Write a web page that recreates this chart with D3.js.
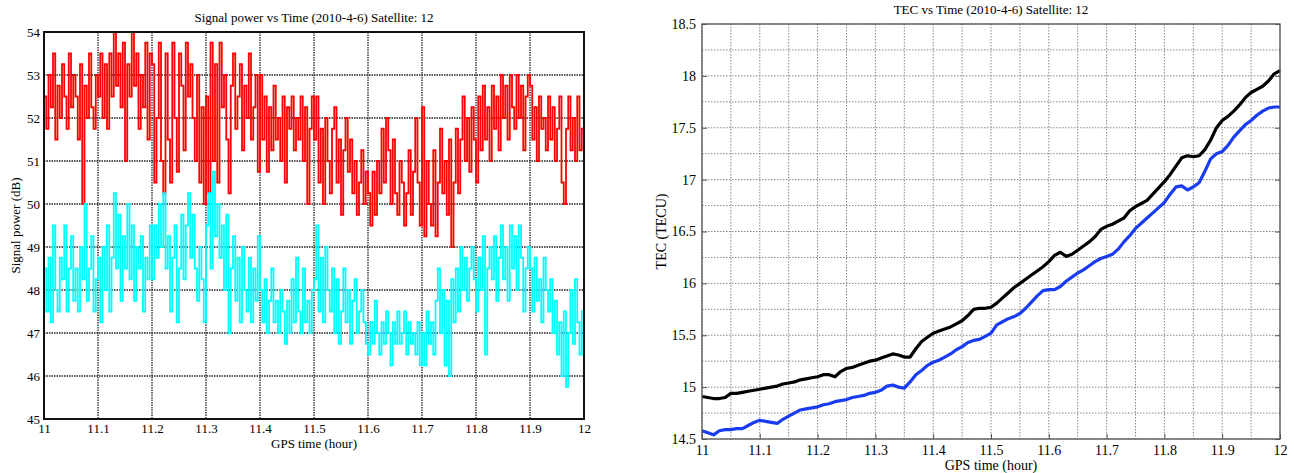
<!DOCTYPE html>
<html>
<head>
<meta charset="utf-8">
<script src="https://cdn.jsdelivr.net/npm/d3@7"></script>
<style>
  body { margin: 0; background: #fff; }
  svg text { font-family: "Liberation Serif", "DejaVu Serif", serif; fill: #000; }
</style>
</head>
<body>
<div id="chart"></div>
<script>
// ---- data ----
var powerTimeStart = 11, powerTimeStep = 1 / 240;

var powerRed = [
  52.5, 51.75, 53, 52.25, 53.5, 51.5, 52.75, 52, 53.25, 52.5, 51.75, 53.5, 52.25, 53, 52.5, 51.5, 53.25, 50, 52.75, 52, 53.5, 52.25, 51.75, 53,
  52.5, 53.5, 52, 53.25, 51.75, 53.5, 52.5, 54, 52.75, 53.5, 52.25, 53.75, 51, 53.25, 52.5, 54, 52.75, 53.5, 51.75, 53, 52.25, 53.75, 51.5, 53.5,
  53.25, 50.5, 52, 53.75, 51, 50.25, 53.5, 51.5, 50.5, 53.75, 52, 50.75, 53.5, 52.75, 51.25, 53.75, 52.5, 53.25, 52, 51, 53, 50.5, 52.25, 50,
  52.5, 50.25, 53.75, 51, 53.25, 50.5, 53.75, 52.25, 53, 51.5, 50.25, 52.75, 53.5, 51.75, 52.5, 53.25, 51.25, 52.75, 52, 53.5, 51.5, 52.25, 53, 50.75,
  53, 51.5, 52.5, 50.75, 52.25, 51.25, 52.75, 51.5, 52, 51, 52.5, 50.5, 52.25, 51.75, 52.5, 51.25, 52, 51.5, 52.5, 51, 52.25, 50, 51.75, 52.5,
  51.5, 52.5, 50.5, 51.75, 50, 52, 51, 50.25, 51.75, 52.25, 50.5, 51.5, 49.75, 51.25, 52, 50.75, 51.5, 50.25, 51, 49.75, 50.5, 51.25, 50, 50.75,
  50.25, 49.5, 50.75, 49.75, 51, 50.25, 51.75, 50.5, 52, 51.25, 50, 51.5, 50.25, 49.75, 51, 50.5, 49.5, 50.25, 51.25, 49.75, 50.75, 52, 50.5, 49.5,
  52.25, 49.25, 51, 50, 49.5, 51.25, 49.25, 50.5, 51.75, 50.25, 51, 49.75, 51.5, 49, 50.5, 51.75, 50.25, 51.5, 52.5, 51, 52, 50.75, 52.25, 51.5,
  50.5, 52.5, 51.25, 52.75, 51.5, 52.25, 51, 52.75, 51.75, 52.5, 51.25, 53, 52, 52.75, 51.5, 53, 52.25, 51.75, 53, 52, 52.75, 51.25, 52.5, 53,
  52.75, 51.5, 52.25, 51, 52.5, 51.75, 52, 51.25, 52.5, 51.5, 52.25, 51, 51.75, 52.5, 50.5, 50, 51.75, 52.5, 51.25, 52, 51, 52.5, 51.25, 51.75, 51
];

var powerCyan = [
  48.5, 47.5, 48.75, 47.25, 49.5, 48, 47.5, 48.75, 48.25, 49.5, 47.5, 48.5, 49.25, 47.75, 48.5, 47.5, 49, 48.25, 50, 47.75, 48.5, 49.25, 47.5, 48.25,
  48.75, 47.25, 49, 48, 49.5, 47.5, 48.75, 50.25, 48.5, 49.75, 47.75, 49.25, 48.5, 50, 48.25, 49.5, 47.75, 49, 48.5, 49.25, 47.5, 48.75, 48.25, 49.5,
  48.25, 49.5, 48.75, 50, 49, 50.25, 48.5, 49.25, 47.5, 48.75, 49.5, 47.25, 48.5, 49.75, 48.25, 49.5, 50.25, 48.75, 49.75, 48.5, 47.75, 49, 48.25, 47.25,
  49.5, 50.25, 48.5, 50.75, 49.25, 50, 48.75, 49.5, 48, 49.75, 47, 48.5, 49.25, 47.75, 48.75, 47.25, 49, 48, 47.5, 48.75, 47.25, 48.5, 47.75, 49.25,
  48, 47.25, 48.25, 47, 47.75, 48.5, 47.25, 47.75, 47, 48, 47.5, 46.75, 47.75, 47, 48.25, 47.25, 48.75, 47.5, 47, 48.5, 47.25, 47.75, 47, 48,
  48.25, 49.5, 47.5, 48.75, 47.25, 49, 48, 47.5, 48.5, 47, 48.25, 46.75, 47.5, 48.5, 47.25, 48, 46.75, 47.75, 48.25, 47, 47.5, 48, 47.25, 46.75,
  46.5, 47.25, 46.75, 47.75, 47, 46.5, 47.25, 46.75, 47.5, 47, 46.25, 47.25, 46.75, 47.5, 46.75, 47, 47.5, 46.5, 47.25, 46.75, 47, 46.5, 47.25, 46.25,
  47, 46.25, 47.5, 46.75, 47.25, 46.5, 47.75, 48.5, 47, 48, 46.25, 47.75, 46, 48.25, 47.25, 48.5, 47.5, 49, 48, 48.75, 47.75, 48.5, 49, 48.25,
  47.5, 48.75, 48, 49.25, 46.5, 48.5, 49, 48.25, 49.25, 47.75, 48.75, 49.5, 48.25, 49, 47.75, 49.5, 48.5, 49.25, 48, 49.5, 48.75, 47.5, 48.5, 49,
  48.5, 47.5, 48.75, 47.75, 48.25, 47.25, 48.75, 48, 47.5, 48.25, 47, 47.75, 46.5, 47.25, 46, 47.5, 45.75, 47, 48, 46.75, 48.25, 47.25, 46.5, 47.5, 45.75
];

var tecTimeStart = 11, tecTimeStep = 0.01;

var tecBlack = [
  14.91, 14.90, 14.89, 14.89, 14.90, 14.94, 14.94, 14.95, 14.96, 14.97,
  14.98, 14.99, 15.00, 15.01, 15.03, 15.04, 15.05, 15.07, 15.08, 15.09,
  15.10, 15.12, 15.12, 15.10, 15.15, 15.18, 15.19, 15.21, 15.23, 15.25,
  15.26, 15.28, 15.30, 15.32, 15.31, 15.29, 15.29, 15.37, 15.44, 15.48,
  15.52, 15.54, 15.56, 15.58, 15.61, 15.64, 15.69, 15.75, 15.76, 15.76,
  15.77, 15.81, 15.86, 15.91, 15.96, 16.00, 16.04, 16.08, 16.12, 16.16,
  16.21, 16.27, 16.30, 16.26, 16.28, 16.32, 16.36, 16.40, 16.45, 16.52,
  16.55, 16.57, 16.60, 16.63, 16.70, 16.74, 16.77, 16.80, 16.86, 16.92,
  16.98, 17.05, 17.13, 17.21, 17.23, 17.22, 17.23, 17.29, 17.38, 17.50,
  17.57, 17.61, 17.66, 17.72, 17.79, 17.84, 17.87, 17.90, 17.95, 18.02, 18.05
];

var tecBlue = [
  14.58, 14.56, 14.54, 14.58, 14.59, 14.59, 14.60, 14.60, 14.63, 14.66,
  14.68, 14.67, 14.66, 14.65, 14.69, 14.72, 14.75, 14.78, 14.79, 14.80,
  14.81, 14.83, 14.84, 14.86, 14.87, 14.88, 14.90, 14.91, 14.92, 14.94,
  14.95, 14.97, 15.01, 15.02, 15.00, 14.99, 15.05, 15.12, 15.16, 15.21,
  15.24, 15.26, 15.29, 15.32, 15.36, 15.39, 15.43, 15.45, 15.46, 15.49,
  15.52, 15.60, 15.63, 15.66, 15.68, 15.71, 15.76, 15.82, 15.88, 15.93,
  15.94, 15.94, 15.97, 16.02, 16.06, 16.10, 16.13, 16.17, 16.21, 16.24,
  16.26, 16.28, 16.33, 16.40, 16.46, 16.53, 16.58, 16.63, 16.68, 16.73,
  16.78, 16.86, 16.93, 16.94, 16.90, 16.93, 16.97, 17.08, 17.20, 17.25,
  17.27, 17.33, 17.41, 17.47, 17.53, 17.57, 17.62, 17.66, 17.69, 17.70, 17.70
];

var timeTicks = [11, 11.1, 11.2, 11.3, 11.4, 11.5, 11.6, 11.7, 11.8, 11.9, 12];
var timeMinorTicks = d3.range(0, 21).map(function(i) { return 11 + i * 0.05; });
var powerTicks = [45, 46, 47, 48, 49, 50, 51, 52, 53, 54];
var tecTicks = [14.5, 15, 15.5, 16, 16.5, 17, 17.5, 18, 18.5];
var tecMinorTicks = d3.range(0, 17).map(function(i) { return 14.5 + i * 0.25; });

var width = 1294, height = 473;

var svg = d3.select("#chart")
  .append("svg")
  .attr("width", width)
  .attr("height", height);

function toPoints(values, start, step) {
  return values.map(function(v, i) { return { t: start + i * step, v: v }; });
}

// strip d3's default sans-serif so the serif css applies
function cleanAxis(g, tickColor) {
  g.attr("font-family", null).attr("font-size", null);
  g.select(".domain").remove();
  g.selectAll("line").attr("stroke", tickColor);
}

// ---- left: signal power ----
var left = { x0: 44, x1: 584, y0: 32, y1: 419 };

var x_power = d3.scaleLinear().domain([11, 12]).range([left.x0, left.x1]);
var y_power = d3.scaleLinear().domain([45, 54]).range([left.y1, left.y0]);

var gL = svg.append("g");

// grid
gL.append("g")
  .selectAll("line")
  .data(timeTicks)
  .enter()
  .append("line")
  .attr("x1", function(d) { return x_power(d); })
  .attr("x2", function(d) { return x_power(d); })
  .attr("y1", left.y0)
  .attr("y2", left.y1)
  .attr("stroke", "#222")
  .attr("stroke-width", 1.3)
  .attr("stroke-dasharray", "1.5,1");

gL.append("g")
  .selectAll("line")
  .data(powerTicks)
  .enter()
  .append("line")
  .attr("x1", left.x0)
  .attr("x2", left.x1)
  .attr("y1", function(d) { return y_power(d); })
  .attr("y2", function(d) { return y_power(d); })
  .attr("stroke", "#222")
  .attr("stroke-width", 1.3)
  .attr("stroke-dasharray", "1.5,1");

var powerLine = d3.line()
  .curve(d3.curveStepAfter)
  .x(function(d) { return x_power(d.t); })
  .y(function(d) { return y_power(d.v); });

gL.append("path")
  .datum(toPoints(powerRed, powerTimeStart, powerTimeStep))
  .attr("d", powerLine)
  .attr("fill", "none")
  .attr("stroke", "#ff0000")
  .attr("stroke-width", 1.8);

gL.append("path")
  .datum(toPoints(powerCyan, powerTimeStart, powerTimeStep))
  .attr("d", powerLine)
  .attr("fill", "none")
  .attr("stroke", "#00ffff")
  .attr("stroke-width", 1.8);

// border
gL.append("rect")
  .attr("x", left.x0)
  .attr("y", left.y0)
  .attr("width", left.x1 - left.x0)
  .attr("height", left.y1 - left.y0)
  .attr("fill", "none")
  .attr("stroke", "#111")
  .attr("stroke-width", 2);

var xAxisL = d3.axisBottom(x_power).tickValues(timeTicks).tickSize(0).tickPadding(5)
  .tickFormat(d3.format("~g"));
gL.append("g")
  .attr("transform", "translate(0," + left.y1 + ")")
  .call(xAxisL)
  .call(cleanAxis, "#111")
  .selectAll("text")
  .style("font-size", "13px");

var yAxisL = d3.axisLeft(y_power).tickValues(powerTicks).tickSize(0).tickPadding(4)
  .tickFormat(d3.format("d"));
gL.append("g")
  .attr("transform", "translate(" + left.x0 + ",0)")
  .call(yAxisL)
  .call(cleanAxis, "#111")
  .selectAll("text")
  .style("font-size", "13px");

gL.append("text")
  .attr("x", (left.x0 + left.x1) / 2)
  .attr("y", 22)
  .attr("text-anchor", "middle")
  .style("font-size", "13px")
  .text("Signal power vs Time (2010-4-6) Satellite: 12");

gL.append("text")
  .attr("x", (left.x0 + left.x1) / 2)
  .attr("y", 448)
  .attr("text-anchor", "middle")
  .style("font-size", "13px")
  .text("GPS time (hour)");

gL.append("text")
  .attr("transform", "translate(20," + (left.y0 + left.y1) / 2 + ") rotate(-90)")
  .attr("text-anchor", "middle")
  .style("font-size", "13px")
  .text("Signal power (dB)");

// ---- right: TEC ----
var right = { x0: 702, x1: 1280, y0: 24, y1: 439 };

var x_tec = d3.scaleLinear().domain([11, 12]).range([right.x0, right.x1]);
var y_tec = d3.scaleLinear().domain([14.5, 18.5]).range([right.y1, right.y0]);

var gR = svg.append("g");

gR.append("g")
  .selectAll("line")
  .data(timeMinorTicks)
  .enter()
  .append("line")
  .attr("x1", function(d) { return x_tec(d); })
  .attr("x2", function(d) { return x_tec(d); })
  .attr("y1", right.y0)
  .attr("y2", right.y1)
  .attr("stroke", "#888")
  .attr("stroke-width", 1)
  .attr("stroke-dasharray", "1.5,1.5");

gR.append("g")
  .selectAll("line")
  .data(tecMinorTicks)
  .enter()
  .append("line")
  .attr("x1", right.x0)
  .attr("x2", right.x1)
  .attr("y1", function(d) { return y_tec(d); })
  .attr("y2", function(d) { return y_tec(d); })
  .attr("stroke", "#888")
  .attr("stroke-width", 1)
  .attr("stroke-dasharray", "1.5,1.5");

var tecLine = d3.line()
  .x(function(d) { return x_tec(d.t); })
  .y(function(d) { return y_tec(d.v); });

gR.append("path")
  .datum(toPoints(tecBlack, tecTimeStart, tecTimeStep))
  .attr("d", tecLine)
  .attr("fill", "none")
  .attr("stroke", "#000")
  .attr("stroke-width", 3.2)
  .attr("stroke-linejoin", "round");

gR.append("path")
  .datum(toPoints(tecBlue, tecTimeStart, tecTimeStep))
  .attr("d", tecLine)
  .attr("fill", "none")
  .attr("stroke", "#1a3cf0")
  .attr("stroke-width", 3.2)
  .attr("stroke-linejoin", "round");

gR.append("rect")
  .attr("x", right.x0)
  .attr("y", right.y0)
  .attr("width", right.x1 - right.x0)
  .attr("height", right.y1 - right.y0)
  .attr("fill", "none")
  .attr("stroke", "#555")
  .attr("stroke-width", 1.3);

// inward ticks
var xAxisR = d3.axisBottom(x_tec).tickValues(timeTicks).tickSize(-5).tickPadding(6)
  .tickFormat(d3.format("~g"));
gR.append("g")
  .attr("transform", "translate(0," + right.y1 + ")")
  .call(xAxisR)
  .call(cleanAxis, "#555")
  .selectAll("text")
  .style("font-size", "14px");

var yAxisR = d3.axisLeft(y_tec).tickValues(tecTicks).tickSize(-5).tickPadding(6)
  .tickFormat(d3.format("~g"));
gR.append("g")
  .attr("transform", "translate(" + right.x0 + ",0)")
  .call(yAxisR)
  .call(cleanAxis, "#555")
  .selectAll("text")
  .style("font-size", "14px");

gR.append("g")
  .attr("transform", "translate(" + right.x1 + ",0)")
  .call(d3.axisRight(y_tec).tickValues(tecTicks).tickSize(-5).tickFormat(""))
  .call(cleanAxis, "#555");

gR.append("text")
  .attr("x", (right.x0 + right.x1) / 2)
  .attr("y", 14)
  .attr("text-anchor", "middle")
  .style("font-size", "13px")
  .text("TEC vs Time (2010-4-6) Satellite: 12");

gR.append("text")
  .attr("x", (right.x0 + right.x1) / 2)
  .attr("y", 470)
  .attr("text-anchor", "middle")
  .style("font-size", "14px")
  .text("GPS time (hour)");

gR.append("text")
  .attr("transform", "translate(666," + (right.y0 + right.y1) / 2 + ") rotate(-90)")
  .attr("text-anchor", "middle")
  .style("font-size", "14px")
  .text("TEC (TECU)");
</script>
</body>
</html>
